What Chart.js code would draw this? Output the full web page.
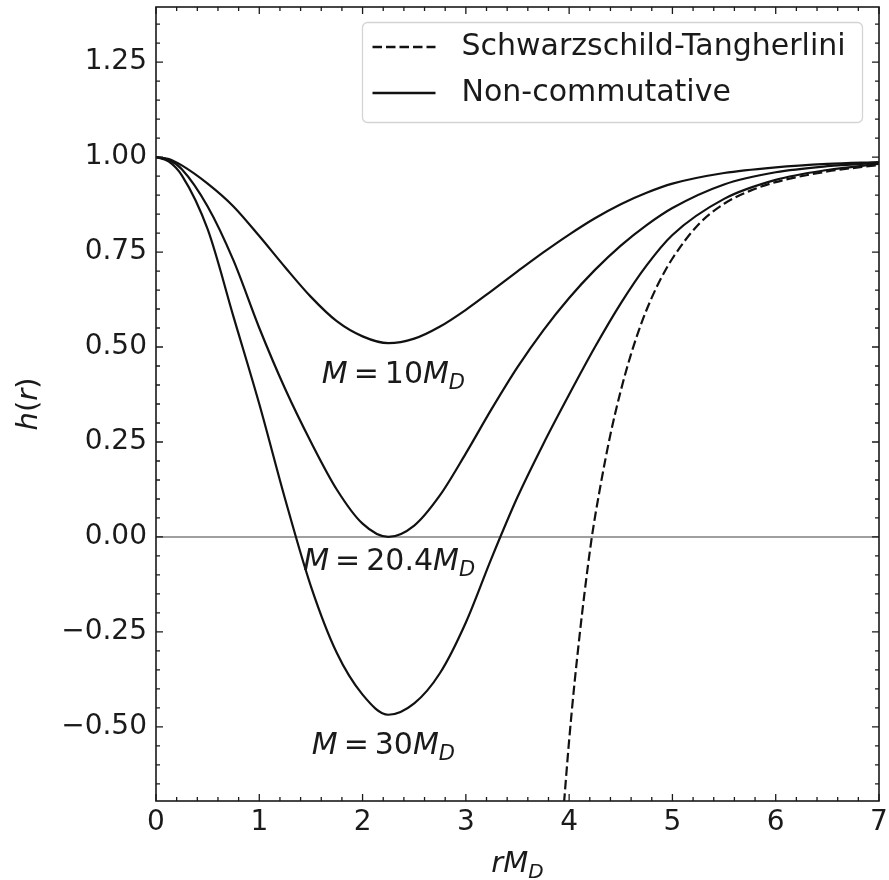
<!DOCTYPE html>
<html>
<head>
<meta charset="utf-8">
<script src="https://cdn.jsdelivr.net/npm/chart.js@4.4.1/dist/chart.umd.min.js"></script>
<style>
  html, body { margin: 0; padding: 0; background: #fff; }
  #wrap { width: 889px; height: 880px; }
</style>
</head>
<body>
<div id="wrap"><canvas id="hChart" width="889" height="880"></canvas></div>
<script>
// r * M_D grid shared by the non-commutative curves
const rGrid = [0, 0.125, 0.25, 0.5, 0.75, 1, 1.25, 1.5, 1.75, 2, 2.25, 2.5, 2.75, 3, 3.25, 3.5, 3.75, 4, 4.25, 4.5, 4.75, 5, 5.5, 6, 6.5, 7];
const hM10 = [1.000, 0.995, 0.978, 0.930, 0.870, 0.792, 0.710, 0.632, 0.568, 0.528, 0.510, 0.522, 0.554, 0.598, 0.648, 0.699, 0.749, 0.796, 0.839, 0.876, 0.906, 0.930, 0.958, 0.973, 0.982, 0.987];
const hM204 = [1.000, 0.992, 0.968, 0.870, 0.728, 0.550, 0.390, 0.250, 0.125, 0.035, 0.000, 0.030, 0.110, 0.220, 0.337, 0.447, 0.544, 0.629, 0.703, 0.767, 0.821, 0.866, 0.928, 0.960, 0.976, 0.985];
const hM30 = [1.000, 0.988, 0.952, 0.810, 0.580, 0.350, 0.100, -0.130, -0.305, -0.415, -0.468, -0.438, -0.358, -0.225, -0.055, 0.105, 0.245, 0.375, 0.500, 0.615, 0.715, 0.795, 0.890, 0.940, 0.966, 0.982];

// commutative Schwarzschild-Tangherlini curve (starts below the frame)
const rST = [3.94, 4.0, 4.05, 4.1, 4.15, 4.22, 4.3, 4.4, 4.5, 4.6, 4.7, 4.8, 4.9, 5.0, 5.25, 5.5, 5.75, 6.0, 6.5, 7.0];
const hST = [-0.735, -0.535, -0.39, -0.262, -0.145, 0.0, 0.13, 0.27, 0.385, 0.482, 0.563, 0.63, 0.686, 0.733, 0.822, 0.877, 0.911, 0.934, 0.962, 0.979];

const xTicks = [0, 1, 2, 3, 4, 5, 6, 7];
const yTicks = [-0.5, -0.25, 0, 0.25, 0.5, 0.75, 1.0, 1.25];
const xRange = [0, 7];
const yRange = [-0.695, 1.395];

// mass labels written next to each curve
const massLabels = ['10', '20.4', '30'];
const massAnchors = [[1.605, 0.404], [1.425, -0.088], [1.508, -0.571]];

const INK = '#1a1a1a';
const FONT = '"DejaVu Sans"';
Chart.defaults.font.family = FONT;

const pairs = (xs, ys) => xs.map((x, i) => ({ x: x, y: ys[i] }));

function minorTicks(lo, hi, step, majorStep) {
  const out = [];
  for (let k = Math.ceil(lo / step); k * step <= hi + 1e-9; k++) {
    const v = +(k * step).toFixed(4);
    if (Math.abs(v / majorStep - Math.round(v / majorStep)) > 1e-6) out.push(v);
  }
  return out;
}
const xMinor = minorTicks(xRange[0], xRange[1], 0.2, 1);
const yMinor = minorTicks(yRange[0], yRange[1], 0.05, 0.25);

// draws a run of mathtext-like pieces: {t, it (italic), sub (subscript), sp (space in em)}
function drawMath(ctx, pieces, x, y, size, align) {
  const fontOf = p => (p.it ? 'italic ' : '') + Math.round(p.sub ? size * 0.7 : size) + 'px ' + FONT;
  const widths = pieces.map(p => {
    if (p.sp) return p.sp * size;
    ctx.font = fontOf(p);
    return ctx.measureText(p.t).width;
  });
  const total = widths.reduce((a, b) => a + b, 0);
  let cx = align === 'center' ? x - total / 2 : x;
  ctx.textAlign = 'left';
  ctx.textBaseline = 'alphabetic';
  pieces.forEach((p, i) => {
    if (!p.sp) {
      ctx.font = fontOf(p);
      ctx.fillText(p.t, cx, y + (p.sub ? size * 0.2 : 0));
    }
    cx += widths[i];
  });
}

const frameTicks = {
  id: 'frameTicks',
  afterDatasetsDraw(chart) {
    const { ctx, chartArea: a, scales } = chart;
    ctx.save();
    ctx.strokeStyle = INK;
    ctx.lineWidth = 1.3;
    ctx.beginPath();
    const xMark = (v, len) => {
      const px = scales.x.getPixelForValue(v);
      ctx.moveTo(px, a.bottom); ctx.lineTo(px, a.bottom - len);
      ctx.moveTo(px, a.top); ctx.lineTo(px, a.top + len);
    };
    const yMark = (v, len) => {
      const py = scales.y.getPixelForValue(v);
      ctx.moveTo(a.left, py); ctx.lineTo(a.left + len, py);
      ctx.moveTo(a.right, py); ctx.lineTo(a.right - len, py);
    };
    xTicks.forEach(v => xMark(v, 7));
    xMinor.forEach(v => xMark(v, 4));
    yTicks.forEach(v => yMark(v, 7));
    yMinor.forEach(v => yMark(v, 4));
    ctx.stroke();
    ctx.lineWidth = 1.6;
    ctx.strokeRect(a.left, a.top, a.right - a.left, a.bottom - a.top);
    ctx.restore();
  }
};

const boxLegend = {
  id: 'boxLegend',
  afterDraw(chart) {
    const { ctx, chartArea: a } = chart;
    const entries = chart.data.datasets.filter(d => d.inLegend);
    const w = 500, h = 100;
    const left = a.right - 16.5 - w, top = a.top + 15.5;
    ctx.save();
    ctx.fillStyle = 'rgba(255,255,255,0.85)';
    ctx.strokeStyle = '#d4d4d4';
    ctx.lineWidth = 1.3;
    ctx.beginPath();
    ctx.roundRect(left, top, w, h, 5);
    ctx.fill();
    ctx.stroke();
    entries.forEach((d, i) => {
      const cy = top + 24.5 + i * 46;
      ctx.strokeStyle = d.borderColor;
      ctx.lineWidth = 2.6;
      ctx.setLineDash(d.borderDash || []);
      ctx.beginPath();
      ctx.moveTo(left + 10, cy);
      ctx.lineTo(left + 73, cy);
      ctx.stroke();
      ctx.setLineDash([]);
      ctx.fillStyle = INK;
      ctx.font = '30px ' + FONT;
      ctx.textAlign = 'left';
      ctx.textBaseline = 'middle';
      ctx.fillText(d.label, left + 99, cy);
    });
    ctx.restore();
  }
};

const mathText = {
  id: 'mathText',
  afterDraw(chart) {
    const { ctx, chartArea: a, scales } = chart;
    ctx.save();
    ctx.fillStyle = INK;
    massLabels.forEach((m, i) => {
      const px = scales.x.getPixelForValue(massAnchors[i][0]);
      const py = scales.y.getPixelForValue(massAnchors[i][1]);
      drawMath(ctx, [
        { t: 'M', it: true }, { sp: 0.2 }, { t: '=' }, { sp: 0.2 },
        { t: m }, { t: 'M', it: true }, { t: 'D', it: true, sub: true }
      ], px, py, 30, 'left');
    });
    // x axis title
    drawMath(ctx, [{ t: 'rM', it: true }, { t: 'D', it: true, sub: true }],
      (a.left + a.right) / 2, 872, 29, 'center');
    // y axis title
    ctx.translate(37, (a.top + a.bottom) / 2);
    ctx.rotate(-Math.PI / 2);
    drawMath(ctx, [{ t: 'h', it: true }, { t: '(' }, { t: 'r', it: true }, { t: ')' }], 0, 0, 29, 'center');
    ctx.restore();
  }
};

const fmtY = v => (v < 0 ? '\u2212' : '') + Math.abs(v).toFixed(2);

new Chart(document.getElementById('hChart'), {
  type: 'line',
  data: {
    datasets: [
      {
        label: 'Schwarzschild-Tangherlini',
        inLegend: true,
        data: pairs(rST, hST),
        borderColor: '#111',
        borderWidth: 2.2,
        borderDash: [9.5, 4],
        order: 1
      },
      {
        label: 'Non-commutative',
        inLegend: true,
        data: pairs(rGrid, hM10),
        borderColor: '#111',
        borderWidth: 2.2,
        order: 1
      },
      {
        label: 'M = 20.4 M_D',
        data: pairs(rGrid, hM204),
        borderColor: '#111',
        borderWidth: 2.2,
        order: 1
      },
      {
        label: 'M = 30 M_D',
        data: pairs(rGrid, hM30),
        borderColor: '#111',
        borderWidth: 2.2,
        order: 1
      },
      {
        label: 'h = 0',
        data: pairs(xRange, [0, 0]),
        borderColor: 'rgba(0,0,0,0.5)',
        borderWidth: 1.5,
        order: 5
      }
    ]
  },
  options: {
    responsive: false,
    animation: false,
    events: [],
    clip: 0,
    layout: { padding: { top: 7, right: 10, left: 0, bottom: 0 } },
    elements: {
      point: { radius: 0 },
      line: { fill: false, cubicInterpolationMode: 'monotone' }
    },
    plugins: {
      legend: { display: false },
      tooltip: { enabled: false }
    },
    scales: {
      x: {
        type: 'linear',
        min: xRange[0],
        max: xRange[1],
        grid: { display: false, drawTicks: false },
        border: { display: false },
        afterBuildTicks: s => { s.ticks = xTicks.map(v => ({ value: v })); },
        afterFit: s => { s.height = 79; s.paddingLeft = 0; s.paddingRight = 0; },
        ticks: {
          color: INK,
          font: { size: 28 },
          padding: 5,
          maxRotation: 0,
          autoSkip: false,
          callback: v => String(v)
        }
      },
      y: {
        type: 'linear',
        min: yRange[0],
        max: yRange[1],
        grid: { display: false, drawTicks: false },
        border: { display: false },
        afterBuildTicks: s => { s.ticks = yTicks.map(v => ({ value: v })); },
        afterFit: s => { s.width = 156; s.paddingTop = 0; s.paddingBottom = 0; },
        ticks: {
          color: INK,
          font: { size: 28 },
          padding: 9,
          autoSkip: false,
          callback: v => fmtY(v)
        }
      }
    }
  },
  plugins: [frameTicks, boxLegend, mathText]
});
</script>
</body>
</html>
